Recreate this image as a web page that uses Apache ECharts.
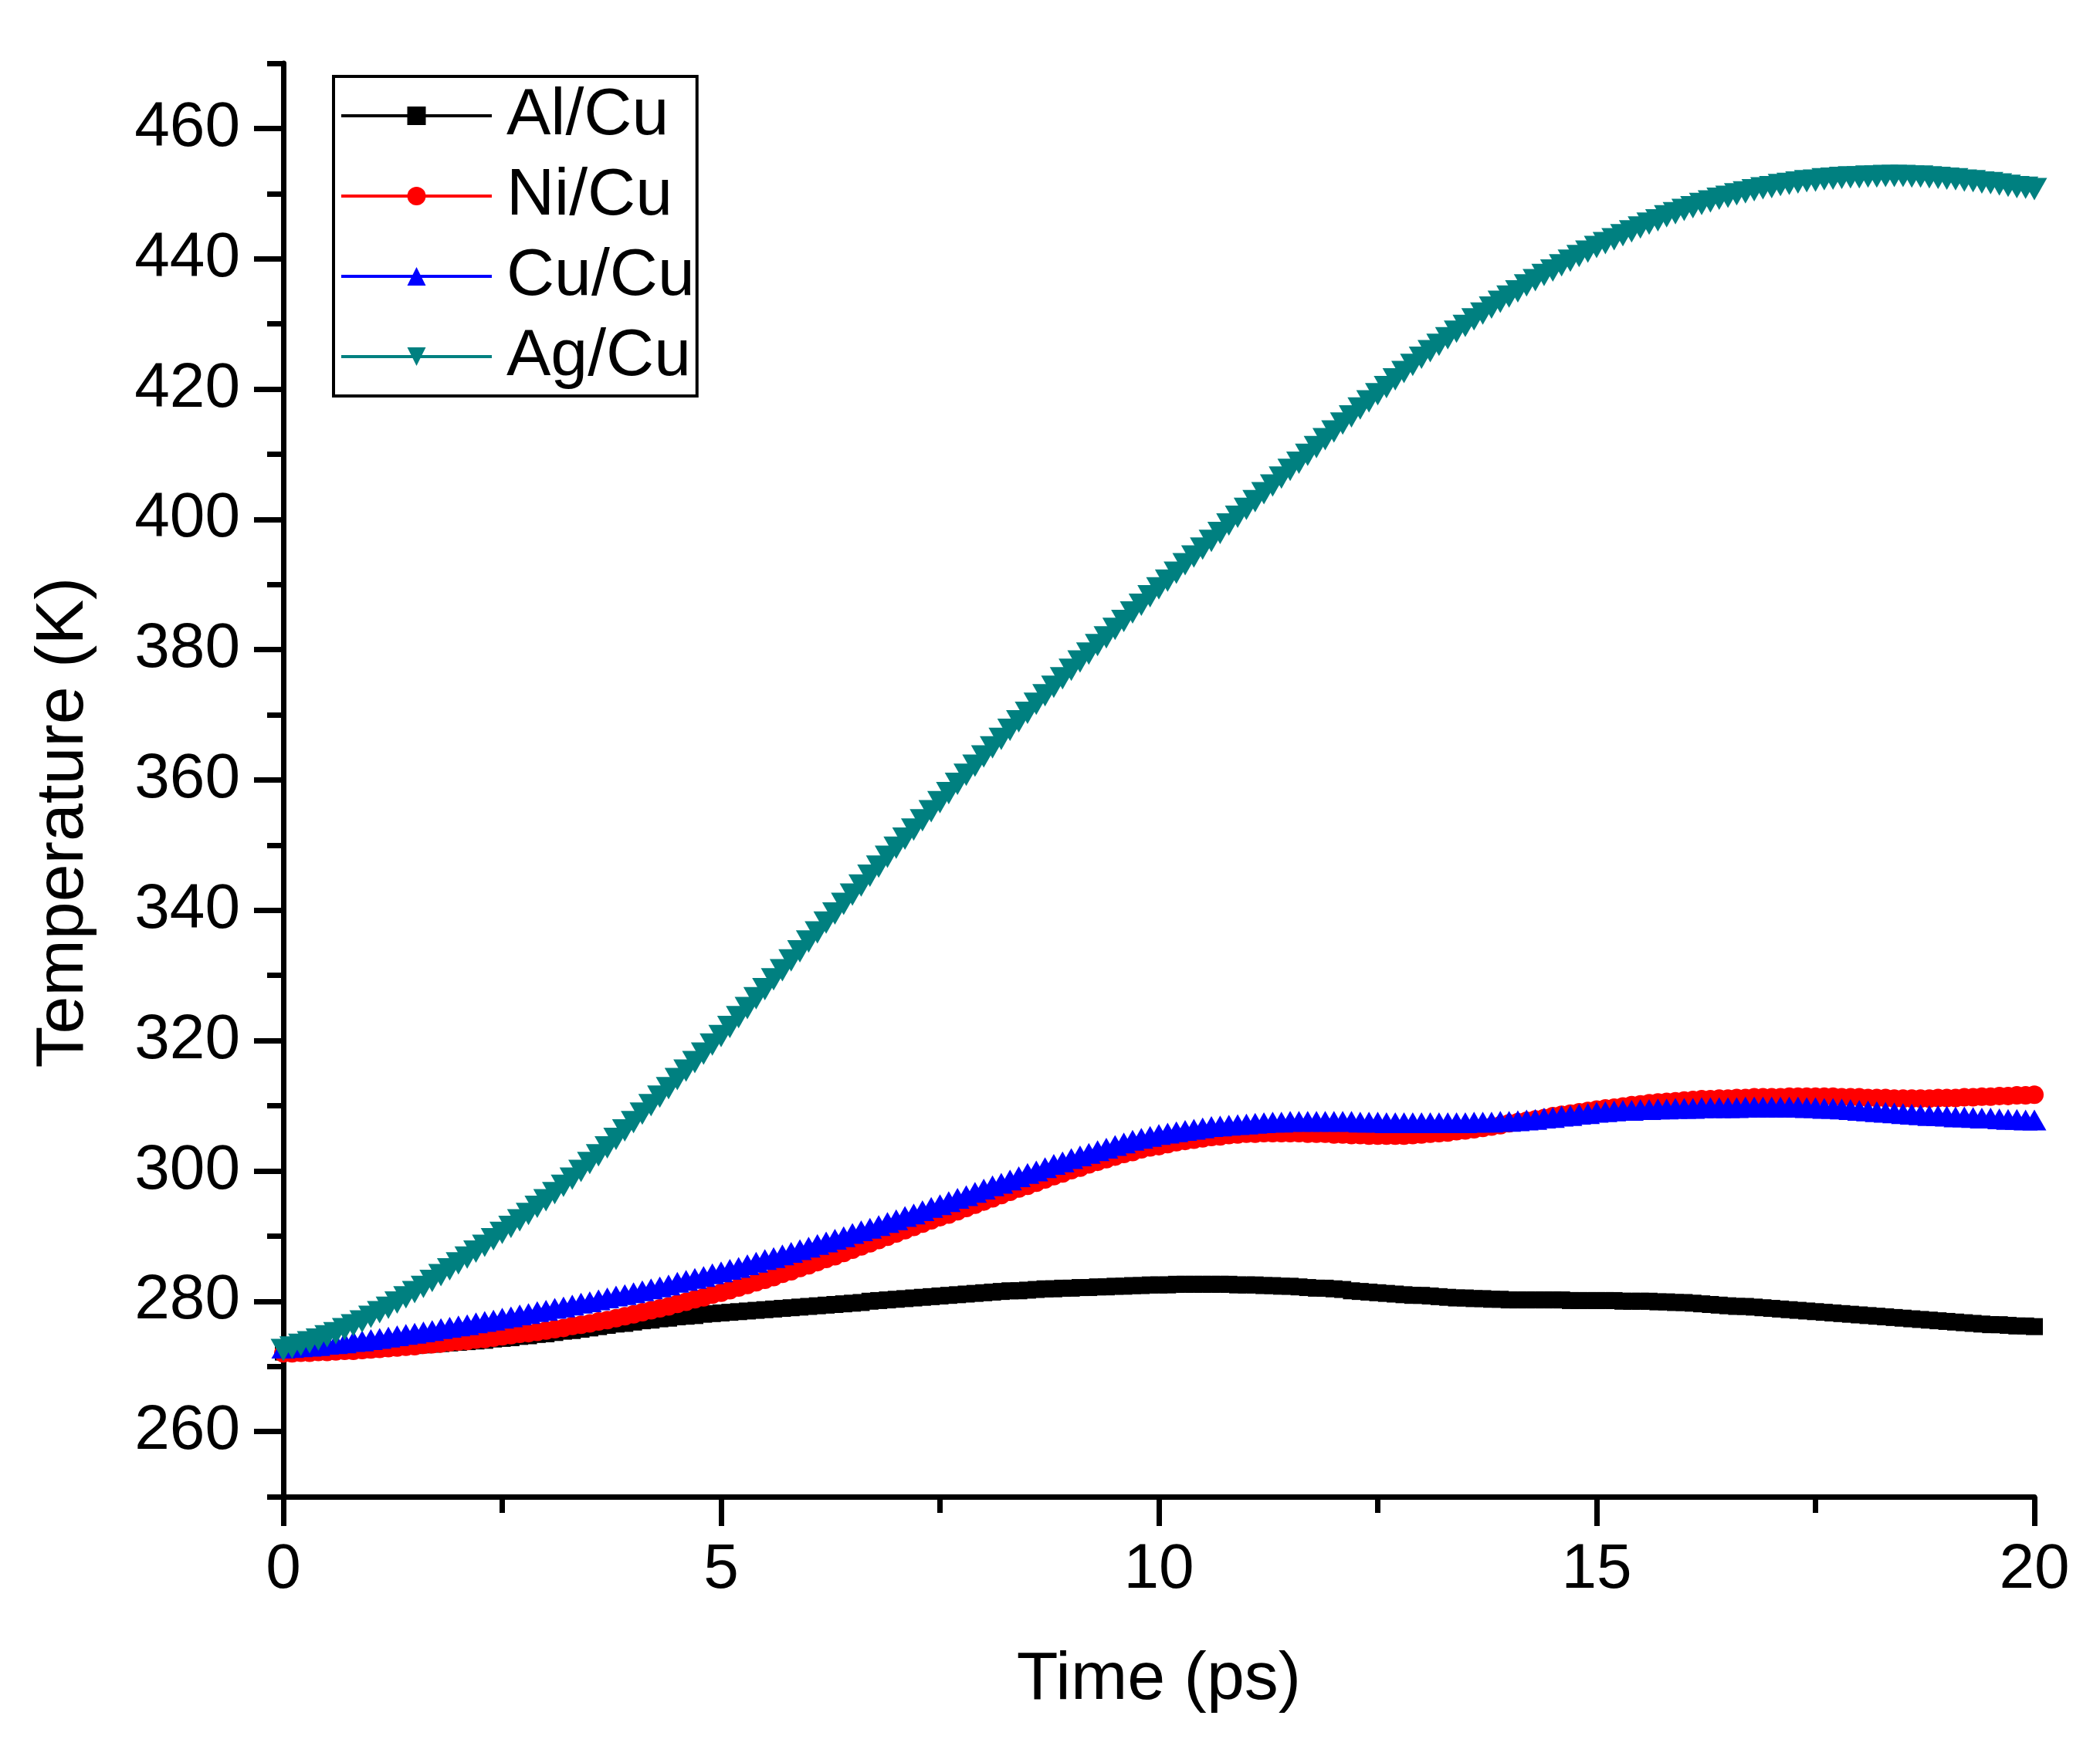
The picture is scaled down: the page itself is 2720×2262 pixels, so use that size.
<!DOCTYPE html>
<html>
<head>
<meta charset="utf-8">
<script src="https://cdn.jsdelivr.net/npm/echarts@6/dist/echarts.min.js"></script>
<style>
  html, body { margin: 0; padding: 0; background: #fff; }
  #main { width: 2720px; height: 2262px; }
</style>
</head>
<body>
<div id="main"></div>
<script>
// sample times, one point every 0.1 ps from 0 to 20 ps
const time = [];
for (let i = 0; i <= 200; i++) time.push(+(i * 0.1).toFixed(1));

const alCu = [
  272.2, 272.2, 272.2, 272.3, 272.3, 272.4, 272.4, 272.5, 272.6, 272.6,
  272.7, 272.8, 272.9, 273.0, 273.1, 273.2, 273.3, 273.4, 273.5, 273.6,
  273.7, 273.8, 273.9, 274.0, 274.2, 274.3, 274.4, 274.6, 274.7, 274.9,
  275.0, 275.2, 275.4, 275.5, 275.7, 275.9, 276.1, 276.3, 276.5, 276.6,
  276.8, 277.0, 277.1, 277.3, 277.4, 277.6, 277.7, 277.8, 278.0, 278.1,
  278.2, 278.3, 278.4, 278.5, 278.6, 278.7, 278.8, 278.9, 279.0, 279.1,
  279.2, 279.3, 279.4, 279.5, 279.6, 279.7, 279.8, 280.0, 280.1, 280.2,
  280.3, 280.4, 280.5, 280.6, 280.7, 280.8, 280.9, 281.0, 281.1, 281.2,
  281.3, 281.4, 281.5, 281.6, 281.6, 281.7, 281.8, 281.9, 281.9, 282.0,
  282.0, 282.1, 282.1, 282.2, 282.2, 282.3, 282.3, 282.4, 282.4, 282.5,
  282.5, 282.5, 282.6, 282.6, 282.6, 282.6, 282.6, 282.6, 282.6, 282.5,
  282.5, 282.5, 282.4, 282.4, 282.3, 282.3, 282.2, 282.1, 282.0, 282.0,
  281.9, 281.8, 281.6, 281.5, 281.4, 281.3, 281.2, 281.1, 281.0, 280.9,
  280.9, 280.8, 280.7, 280.6, 280.5, 280.5, 280.4, 280.4, 280.3, 280.3,
  280.2, 280.2, 280.2, 280.2, 280.2, 280.2, 280.2, 280.1, 280.1, 280.1,
  280.1, 280.1, 280.1, 280.0, 280.0, 280.0, 280.0, 279.9, 279.9, 279.8,
  279.8, 279.7, 279.6, 279.5, 279.4, 279.3, 279.2, 279.2, 279.1, 279.0,
  278.9, 278.8, 278.7, 278.6, 278.5, 278.4, 278.3, 278.2, 278.1, 278.0,
  277.9, 277.8, 277.7, 277.6, 277.5, 277.4, 277.3, 277.2, 277.1, 277.0,
  276.9, 276.8, 276.7, 276.6, 276.5, 276.4, 276.4, 276.3, 276.2, 276.2,
  276.1
];

const niCu = [
  272.0, 272.0, 272.1, 272.1, 272.2, 272.2, 272.3, 272.4, 272.4, 272.5,
  272.6, 272.7, 272.8, 272.9, 273.0, 273.1, 273.3, 273.4, 273.5, 273.7,
  273.8, 273.9, 274.1, 274.2, 274.4, 274.6, 274.8, 275.0, 275.1, 275.3,
  275.5, 275.7, 275.9, 276.2, 276.4, 276.6, 276.9, 277.1, 277.4, 277.7,
  278.0, 278.3, 278.6, 278.9, 279.2, 279.6, 279.9, 280.3, 280.6, 281.0,
  281.3, 281.7, 282.1, 282.5, 282.9, 283.3, 283.7, 284.2, 284.6, 285.1,
  285.5, 286.0, 286.5, 286.9, 287.4, 287.9, 288.4, 288.9, 289.4, 289.9,
  290.4, 290.9, 291.4, 291.9, 292.4, 292.9, 293.3, 293.8, 294.3, 294.8,
  295.3, 295.8, 296.3, 296.8, 297.3, 297.7, 298.2, 298.7, 299.2, 299.6,
  300.1, 300.5, 301.0, 301.4, 301.8, 302.2, 302.6, 302.9, 303.3, 303.6,
  303.8, 304.1, 304.4, 304.6, 304.8, 305.0, 305.2, 305.3, 305.5, 305.6,
  305.7, 305.7, 305.8, 305.8, 305.8, 305.8, 305.8, 305.7, 305.7, 305.7,
  305.6, 305.6, 305.5, 305.5, 305.4, 305.4, 305.4, 305.4, 305.4, 305.5,
  305.6, 305.7, 305.8, 305.9, 306.1, 306.2, 306.4, 306.6, 306.8, 307.0,
  307.3, 307.5, 307.7, 307.9, 308.1, 308.4, 308.6, 308.8, 309.0, 309.2,
  309.4, 309.6, 309.7, 309.9, 310.1, 310.2, 310.4, 310.5, 310.6, 310.7,
  310.8, 310.9, 311.0, 311.0, 311.1, 311.1, 311.2, 311.2, 311.3, 311.3,
  311.3, 311.3, 311.4, 311.4, 311.4, 311.4, 311.4, 311.4, 311.3, 311.3,
  311.3, 311.2, 311.2, 311.2, 311.1, 311.1, 311.1, 311.1, 311.1, 311.2,
  311.2, 311.2, 311.3, 311.3, 311.4, 311.4, 311.5, 311.5, 311.6, 311.6,
  311.7
];

const cuCu = [
  272.8, 272.9, 273.0, 273.1, 273.2, 273.4, 273.5, 273.6, 273.8, 273.9,
  274.1, 274.3, 274.5, 274.7, 274.9, 275.1, 275.3, 275.5, 275.8, 276.0,
  276.2, 276.4, 276.7, 276.9, 277.1, 277.4, 277.6, 277.9, 278.1, 278.4,
  278.6, 278.9, 279.1, 279.4, 279.7, 279.9, 280.2, 280.5, 280.8, 281.0,
  281.3, 281.6, 281.9, 282.2, 282.5, 282.9, 283.2, 283.5, 283.8, 284.2,
  284.5, 284.9, 285.2, 285.6, 286.0, 286.4, 286.7, 287.1, 287.5, 287.9,
  288.3, 288.7, 289.1, 289.5, 289.9, 290.4, 290.8, 291.2, 291.6, 292.1,
  292.5, 293.0, 293.4, 293.9, 294.4, 294.8, 295.3, 295.8, 296.2, 296.7,
  297.2, 297.7, 298.1, 298.6, 299.1, 299.6, 300.0, 300.5, 301.0, 301.4,
  301.9, 302.3, 302.7, 303.1, 303.5, 303.9, 304.3, 304.7, 305.0, 305.3,
  305.6, 305.8, 306.0, 306.2, 306.4, 306.6, 306.8, 306.9, 307.0, 307.1,
  307.2, 307.3, 307.4, 307.5, 307.5, 307.6, 307.6, 307.6, 307.6, 307.6,
  307.6, 307.6, 307.6, 307.5, 307.5, 307.5, 307.4, 307.4, 307.4, 307.4,
  307.4, 307.4, 307.4, 307.4, 307.4, 307.4, 307.5, 307.5, 307.5, 307.6,
  307.6, 307.7, 307.8, 307.9, 308.1, 308.2, 308.4, 308.5, 308.7, 308.8,
  309.0, 309.1, 309.2, 309.3, 309.3, 309.4, 309.4, 309.5, 309.5, 309.6,
  309.6, 309.6, 309.7, 309.7, 309.7, 309.7, 309.7, 309.8, 309.8, 309.8,
  309.8, 309.8, 309.8, 309.8, 309.7, 309.7, 309.6, 309.6, 309.5, 309.4,
  309.3, 309.2, 309.1, 309.0, 308.9, 308.8, 308.7, 308.6, 308.5, 308.5,
  308.4, 308.3, 308.3, 308.2, 308.1, 308.1, 308.0, 307.9, 307.9, 307.8,
  307.8
];

const agCu = [
  272.5, 272.9, 273.3, 273.7, 274.1, 274.6, 275.1, 275.7, 276.3, 276.9,
  277.6, 278.3, 279.0, 279.8, 280.6, 281.4, 282.2, 283.1, 284.0, 284.9,
  285.8, 286.7, 287.6, 288.5, 289.5, 290.5, 291.4, 292.4, 293.4, 294.5,
  295.5, 296.6, 297.7, 298.8, 300.0, 301.2, 302.4, 303.6, 304.9, 306.2,
  307.5, 308.8, 310.1, 311.4, 312.7, 314.1, 315.4, 316.7, 318.0, 319.4,
  320.7, 322.1, 323.6, 325.0, 326.5, 327.9, 329.4, 330.8, 332.3, 333.7,
  335.2, 336.6, 338.1, 339.5, 341.0, 342.4, 343.8, 345.3, 346.7, 348.2,
  349.6, 351.0, 352.4, 353.8, 355.2, 356.6, 358.0, 359.4, 360.8, 362.2,
  363.6, 365.0, 366.3, 367.7, 369.0, 370.3, 371.7, 373.0, 374.3, 375.6,
  376.9, 378.2, 379.4, 380.7, 381.9, 383.2, 384.4, 385.7, 386.9, 388.2,
  389.4, 390.6, 391.8, 393.1, 394.3, 395.5, 396.7, 397.9, 399.2, 400.4,
  401.6, 402.8, 404.0, 405.2, 406.4, 407.6, 408.7, 409.9, 411.1, 412.3,
  413.5, 414.7, 415.8, 417.0, 418.1, 419.2, 420.3, 421.5, 422.6, 423.7,
  424.8, 425.8, 426.8, 427.8, 428.8, 429.7, 430.7, 431.6, 432.5, 433.4,
  434.2, 435.0, 435.9, 436.7, 437.5, 438.2, 439.0, 439.7, 440.4, 441.1,
  441.8, 442.4, 443.0, 443.6, 444.2, 444.8, 445.4, 445.9, 446.5, 447.0,
  447.5, 447.9, 448.4, 448.8, 449.2, 449.5, 449.9, 450.2, 450.5, 450.8,
  451.0, 451.3, 451.5, 451.7, 451.9, 452.0, 452.2, 452.3, 452.4, 452.5,
  452.5, 452.6, 452.6, 452.7, 452.7, 452.7, 452.6, 452.6, 452.5, 452.4,
  452.3, 452.2, 452.0, 451.9, 451.7, 451.6, 451.4, 451.2, 451.0, 450.9,
  450.7
];

const yLabelTicks = [260, 280, 300, 320, 340, 360, 380, 400, 420, 440, 460];
const yMinorTicks = [250, 270, 290, 310, 330, 350, 370, 390, 410, 430, 450, 470];

const FONT = '"Liberation Sans", Arial, Helvetica, sans-serif';

function pairs(values) {
  return values.map((v, i) => [time[i], v]);
}

const chart = echarts.init(document.getElementById('main'), null, { renderer: 'canvas' });

const axisLine = { show: true, onZero: false, lineStyle: { color: '#000', width: 7 } };

const option = {
  backgroundColor: '#fff',
  animation: false,
  textStyle: { fontFamily: FONT },
  grid: { left: 367, right: 85, top: 82, bottom: 323, containLabel: false },
  legend: {
    left: 432,
    top: 99,
    orient: 'vertical',
    padding: [6, 3, 6, 8],
    borderColor: '#000',
    borderWidth: 4,
    itemWidth: 195,
    itemHeight: 30,
    itemGap: 14,
    lineStyle: { width: 4 },
    textStyle: { fontFamily: FONT, fontSize: 86, color: '#000', lineHeight: 90, padding: [0, 0, 0, 14] },
    data: ['Al/Cu', 'Ni/Cu', 'Cu/Cu', 'Ag/Cu']
  },
  xAxis: {
    type: 'value',
    min: 0,
    max: 20,
    interval: 5,
    axisLine: axisLine,
    axisTick: { show: true, length: 38, lineStyle: { color: '#000', width: 7 } },
    minorTick: { show: true, splitNumber: 2, length: 21, lineStyle: { color: '#000', width: 7 } },
    axisLabel: { fontFamily: FONT, fontSize: 82, color: '#000', margin: 54 },
    splitLine: { show: false },
    minorSplitLine: { show: false },
    name: 'Time (ps)',
    nameLocation: 'middle',
    nameGap: 194,
    nameTextStyle: { fontFamily: FONT, fontSize: 88, color: '#000' }
  },
  yAxis: [
    {
      type: 'value',
      position: 'left',
      min: 250,
      max: 470,
      interval: 10,
      axisLine: axisLine,
      axisTick: { show: true, length: 38, customValues: yLabelTicks, lineStyle: { color: '#000', width: 7 } },
      axisLabel: { fontFamily: FONT, fontSize: 82, color: '#000', margin: 56, customValues: yLabelTicks },
      splitLine: { show: false },
      name: 'Temperature (K)',
      nameLocation: 'middle',
      nameGap: 240,
      nameTextStyle: { fontFamily: FONT, fontSize: 88, color: '#000', padding: [0, 110, 0, 0] }
    },
    {
      // minor ticks only
      type: 'value',
      position: 'left',
      min: 250,
      max: 470,
      interval: 10,
      axisLine: { show: false },
      axisTick: { show: true, length: 21, customValues: yMinorTicks, lineStyle: { color: '#000', width: 7 } },
      axisLabel: { show: false },
      splitLine: { show: false }
    }
  ],
  series: [
    {
      name: 'Al/Cu',
      type: 'line',
      yAxisIndex: 0,
      data: pairs(alCu),
      symbol: 'rect',
      symbolSize: 22,
      itemStyle: { color: '#000000' },
      lineStyle: { color: '#000000', width: 3.5 }
    },
    {
      name: 'Ni/Cu',
      type: 'line',
      yAxisIndex: 0,
      data: pairs(niCu),
      symbol: 'circle',
      symbolSize: 24,
      itemStyle: { color: '#ff0000' },
      lineStyle: { color: '#ff0000', width: 3.5 }
    },
    {
      name: 'Cu/Cu',
      type: 'line',
      yAxisIndex: 0,
      data: pairs(cuCu),
      symbol: 'triangle',
      symbolSize: [31, 27],
      itemStyle: { color: '#0000ff' },
      lineStyle: { color: '#0000ff', width: 3.5 }
    },
    {
      name: 'Ag/Cu',
      type: 'line',
      yAxisIndex: 0,
      data: pairs(agCu),
      symbol: 'path://M0,0L20,0L10,17Z',
      symbolSize: [33, 29],
      itemStyle: { color: '#008080' },
      lineStyle: { color: '#008080', width: 3.5 }
    }
  ]
};

chart.setOption(option);
</script>
</body>
</html>
